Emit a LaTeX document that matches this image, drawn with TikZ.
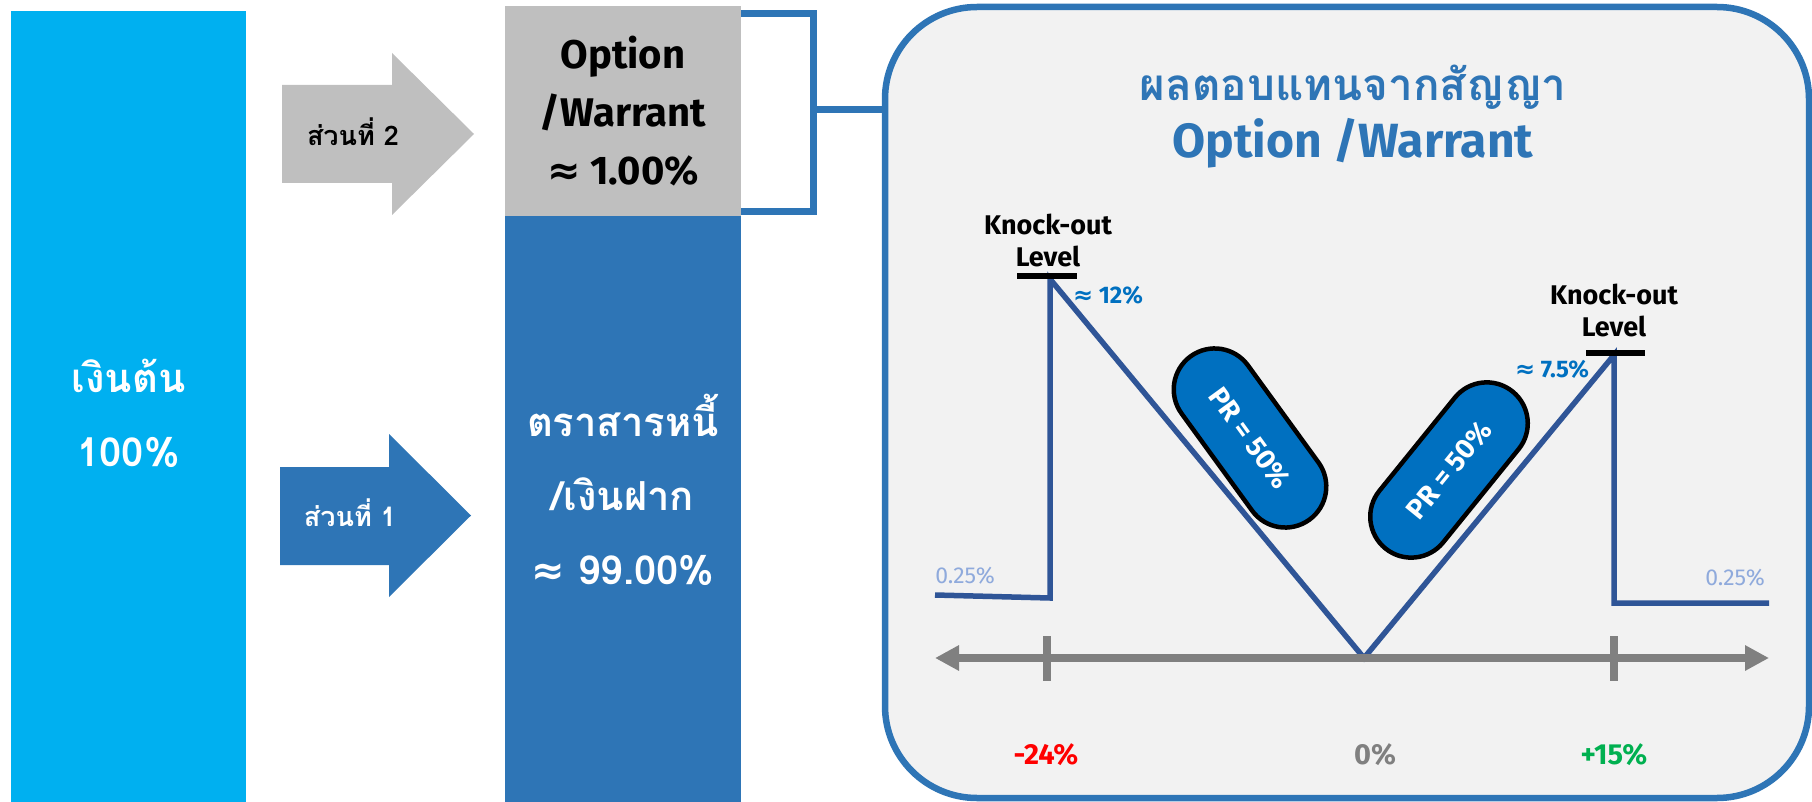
\documentclass[tikz,border=0pt]{standalone}
\usepackage{fontspec}
\setmainfont{Fira Sans}
\newfontfamily\thaifont[Script=Thai]{Loma}
\newfontfamily\symfont{DejaVu Sans}
\usetikzlibrary{positioning, shapes.misc, arrows.meta}

\definecolor{barcyan}{HTML}{00B0F0}
\definecolor{boxgray}{HTML}{BFBFBF}
\definecolor{boxblue}{HTML}{2E75B6}
\definecolor{panelbg}{HTML}{F2F2F2}
\definecolor{curveblue}{HTML}{2F5597}
\definecolor{pillblue}{HTML}{0070C0}
\definecolor{lightblue}{HTML}{8FAADC}
\definecolor{axisgray}{HTML}{808080}
\definecolor{upgreen}{HTML}{00B050}
\newcommand{\apx}{{\symfont ≈}}

\begin{document}
\begin{tikzpicture}[x=1pt,y=-1pt]
\tikzstyle{every node}=[inner sep=0pt, outer sep=0pt, align=center]
\tikzstyle{block}=[rectangle, minimum width=236pt, anchor=north west]
\tikzstyle{bigtxt}=[font=\fontsize{40}{58}\selectfont\bfseries]
\tikzstyle{thaibig}=[font=\fontsize{40}{74}\selectfont\thaifont\bfseries, text=white]
\tikzstyle{parttxt}=[font=\fontsize{27}{30}\selectfont\thaifont\bfseries]
\tikzstyle{kotxt}=[font=\fontsize{27}{32}\selectfont\bfseries]
\tikzstyle{pcttxt}=[font=\fontsize{23}{26}\selectfont]
\tikzstyle{axistxt}=[font=\fontsize{29}{30}\selectfont\bfseries]
\tikzstyle{pill}=[rounded rectangle, draw=black, line width=4.5pt, fill=pillblue,
  minimum width=202pt, minimum height=82pt, text=white, font=\fontsize{28}{30}\selectfont\bfseries]
\tikzstyle{curve}=[curveblue, line width=5.5pt, line join=miter]
\tikzstyle{kobar}=[black, line width=6pt]

\useasboundingbox (0,0) rectangle (1812,802);

% left part: capital, arrows, split boxes
\node[block, fill=barcyan, minimum width=235pt, minimum height=791pt] (principal) at (11,11) {};
\node[thaibig] (principaltxt) at ([yshift=-7pt]principal.center) {เงินต้น\\100\%};

\path[fill=boxgray] (282,85) -- (392,85) -- (392,53) -- (474,134) -- (392,215) -- (392,183) -- (282,183) -- cycle;
\node[parttxt] (part2) at (353,132) {ส่วนที่ 2};
\path[fill=boxblue] (280,467) -- (389,467) -- (389,434) -- (471,515.5) -- (389,597) -- (389,565) -- (280,565) -- cycle;
\node[parttxt, text=white] (part1) at (350,513) {ส่วนที่ 1};

\node[block, fill=boxgray, minimum height=210pt] (option) at (505,6) {};
\node[block, fill=boxblue, minimum height=586pt, below=0pt of option] (bond) {};
\node[bigtxt] (optiontxt) at (option.center) {Option\\/Warrant\\\apx\ 1.00\%};
\node[thaibig] (bondtxt) at ([yshift=19pt]bond.center) {ตราสารหนี้\\/เงินฝาก\\\apx\ 99.00\%};

% payoff panel
\node[block, draw=boxblue, line width=6.5pt, fill=panelbg, rounded corners=92pt,
  minimum width=924pt, minimum height=791pt] (panel) at (885,7) {};

\coordinate (brkT) at (813.5,13.5);
\coordinate (brkB) at (813.5,212);
\coordinate (brkM) at (813.5,110);
\draw[boxblue, line width=7pt, line join=miter] (option.east |- brkT) -- (brkT) -- (brkB) -- (option.east |- brkB);
\draw[boxblue, line width=7pt] (brkM) -- (brkM -| panel.west);

\node[font=\fontsize{44}{50}\selectfont\thaifont\bfseries, text=boxblue] (title) at (1353,87) {ผลตอบแทนจากสัญญา};
\node[font=\fontsize{48}{50}\selectfont\bfseries, text=boxblue] (subtitle) at (1353,143) {Option /Warrant};

% payoff curve
\coordinate (L0) at (935,595);
\coordinate (L1) at (1050,598);
\coordinate (KL) at (1050,279);
\coordinate (V) at (1364,658);
\coordinate (KR) at (1614,355);
\coordinate (R1) at (1614,603);
\coordinate (R0) at (1769,603);
\draw[curve] (L0) -- (L1) -- (KL) -- (V) -- (KR) -- (R1) -- (R0);

\draw[kobar] (1017,276) -- (1077,276);
\draw[kobar] (1586,353) -- (1645,353);
\node[kotxt] (koL) at (1048,240) {Knock-out\\Level};
\node[kotxt] (koR) at (1614,310) {Knock-out\\Level};

\node[pcttxt, text=pillblue, font=\fontsize{24}{26}\selectfont\bfseries] (upL) at (1108,295) {\apx\ 12\%};
\node[pcttxt, text=pillblue, font=\fontsize{24}{26}\selectfont\bfseries] (upR) at (1552,369) {\apx\ 7.5\%};
\node[pcttxt, text=lightblue] (floorL) at (965,576) {0.25\%};
\node[pcttxt, text=lightblue] (floorR) at (1735,578) {0.25\%};

\node[pill, rotate=-54] (prL) at (1250,438) {PR = 50\%};
\node[pill, rotate=51] (prR) at (1449,470) {PR = 50\%};

% axis
\coordinate (axL) at (935,658);
\coordinate (axR) at (1769,658);
\draw[axisgray, line width=8pt, {Triangle[length=24pt,width=24pt]}-{Triangle[length=24pt,width=24pt]}] (axL) -- (axR);
\draw[axisgray, line width=8pt] (1047,636) -- (1047,681);
\draw[axisgray, line width=8pt] (1614,636) -- (1614,681);

\node[axistxt, text=red] (lowlbl) at (1046,755) {-24\%};
\node[axistxt, text=axisgray] (midlbl) at (1375,755) {0\%};
\node[axistxt, text=upgreen] (highlbl) at (1614,755) {+15\%};
\end{tikzpicture}
\end{document}
